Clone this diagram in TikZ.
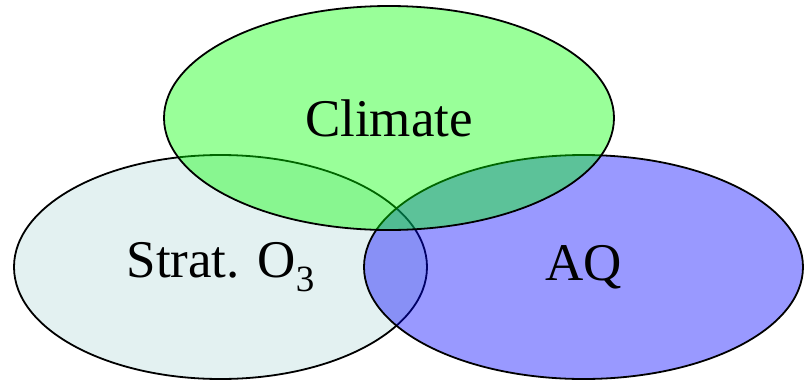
\documentclass[tikz,border=0pt]{standalone}
\usepackage{fontspec}
\setmainfont{Liberation Serif}
\usetikzlibrary{shapes.geometric}

\begin{document}
\begin{tikzpicture}[x=0.5pt, y=-0.5pt,
  font=\fontsize{26.5}{30}\selectfont,
  set/.style={ellipse, draw, line width=0.9pt, inner sep=0pt, text opacity=1},
  strat/.style={set, fill={rgb,255:red,227;green,241;blue,241}},
  aq/.style={set, fill=blue, fill opacity=0.4, draw opacity=1},
  clim/.style={set, fill=green, fill opacity=0.4, draw opacity=1}]
\useasboundingbox (0,0) rectangle (804,381);
\node[strat, minimum width=206.5pt, minimum height=112pt] (o3) at (220.5,267)
  {Strat. O\raisebox{-7pt}{\fontsize{18.5}{20}\selectfont 3}};
\node[aq, minimum width=219.5pt, minimum height=112pt] (aq) at (583.5,267) {AQ};
\node[clim, minimum width=225pt, minimum height=112pt] (cl) at (389,118) {Climate};
\end{tikzpicture}
\end{document}
